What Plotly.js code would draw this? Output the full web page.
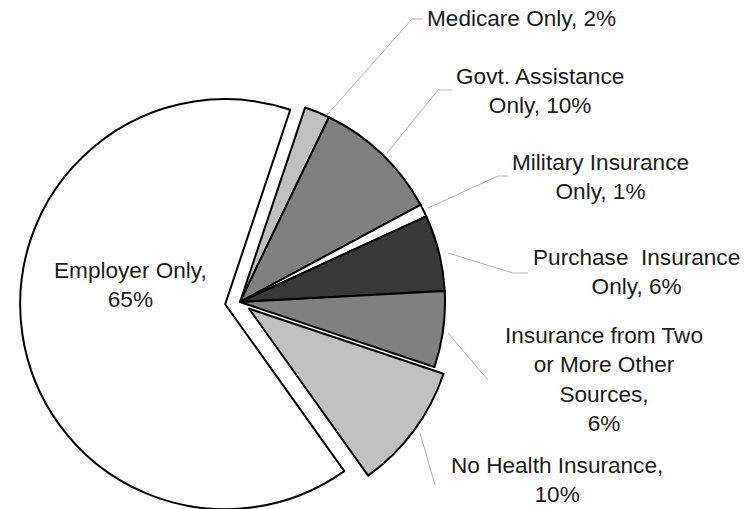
<!DOCTYPE html>
<html>
<head>
<meta charset="utf-8">
<script src="https://cdn.plot.ly/plotly-3.0.1.min.js"></script>
<style>
html, body { margin: 0; padding: 0; overflow: hidden; background: #ffffff; width: 755px; height: 509px; }
#chart { width: 755px; height: 600px; }
</style>
</head>
<body>
<div id="chart"></div>
<script>
// ---- Data ----
const categories = [
  'Medicare Only',
  'Govt. Assistance Only',
  'Military Insurance Only',
  'Purchase Insurance Only',
  'Insurance from Two or More Other Sources',
  'No Health Insurance',
  'Employer Only'
];
const values = [2, 10, 1, 6, 6, 10, 65];
const displayNames = [
  'Medicare Only',
  'Govt. Assistance<br>Only',
  'Military Insurance<br>Only',
  'Purchase\u00a0 Insurance<br>Only',
  'Insurance from Two<br>or More Other<br>Sources',
  'No Health Insurance',
  'Employer Only'
];
const separators = [', ', ', ', ', ', ', ', ',<br>', ',<br>', ',<br>'];

// ---- Styling / layout (not data) ----
const W = 755, H = 600;
const sliceColors = ['#c0c0c0', '#808080', '#ffffff', '#383838', '#808080', '#c0c0c0', '#ffffff'];
const pulls = [0, 0, 0, 0, 0, 0.055, 0.073];
const labelPos = [
  [521, 19], [540, 91], [600, 177], [636, 272], [604, 379], [557, 480], [130, 285]
];
const leaders = [
  [[327, 115], [412, 19], [423, 19]],
  [[387, 153], [438, 90], [452, 90]],
  [[428, 208], [498, 176], [508, 176]],
  [[448, 253], [513, 273], [528, 273]],
  [[448, 333], [488, 380]],
  [[420, 433], [435, 485]]
];
const px = x => x / W;
const py = y => 1 - y / H;

const annotations = categories.map((c, i) => ({
  xref: 'paper', yref: 'paper',
  x: px(labelPos[i][0]), y: py(labelPos[i][1]),
  xanchor: 'center', yanchor: 'middle',
  text: displayNames[i] + separators[i] + values[i] + '%',
  showarrow: false, align: 'center',
  font: { family: 'Liberation Sans, Arial, sans-serif', size: 22.6, color: '#1a1a1a' }
}));

const shapes = [];
leaders.forEach(pts => {
  for (let k = 0; k < pts.length - 1; k++) {
    shapes.push({
      type: 'line', xref: 'paper', yref: 'paper',
      x0: px(pts[k][0]), y0: py(pts[k][1]),
      x1: px(pts[k + 1][0]), y1: py(pts[k + 1][1]),
      line: { color: '#b4b4b4', width: 1 }
    });
  }
});

const cx = 240, cy = 302, half = 220;
const trace = {
  type: 'pie',
  labels: categories,
  values: values,
  sort: false,
  direction: 'clockwise',
  rotation: 18.5,
  pull: pulls,
  textinfo: 'none',
  hoverinfo: 'none',
  showlegend: false,
  marker: { colors: sliceColors, line: { color: '#000000', width: 2 } },
  domain: { x: [px(cx - half), px(cx + half)], y: [0, 2 - 2 * cy / H] }
};

const layout = {
  width: W, height: H,
  margin: { l: 0, r: 0, t: 0, b: 0 },
  paper_bgcolor: '#ffffff',
  plot_bgcolor: '#ffffff',
  showlegend: false,
  annotations: annotations,
  shapes: shapes
};

Plotly.newPlot('chart', [trace], layout, { displayModeBar: false, staticPlot: true });
</script>
</body>
</html>
